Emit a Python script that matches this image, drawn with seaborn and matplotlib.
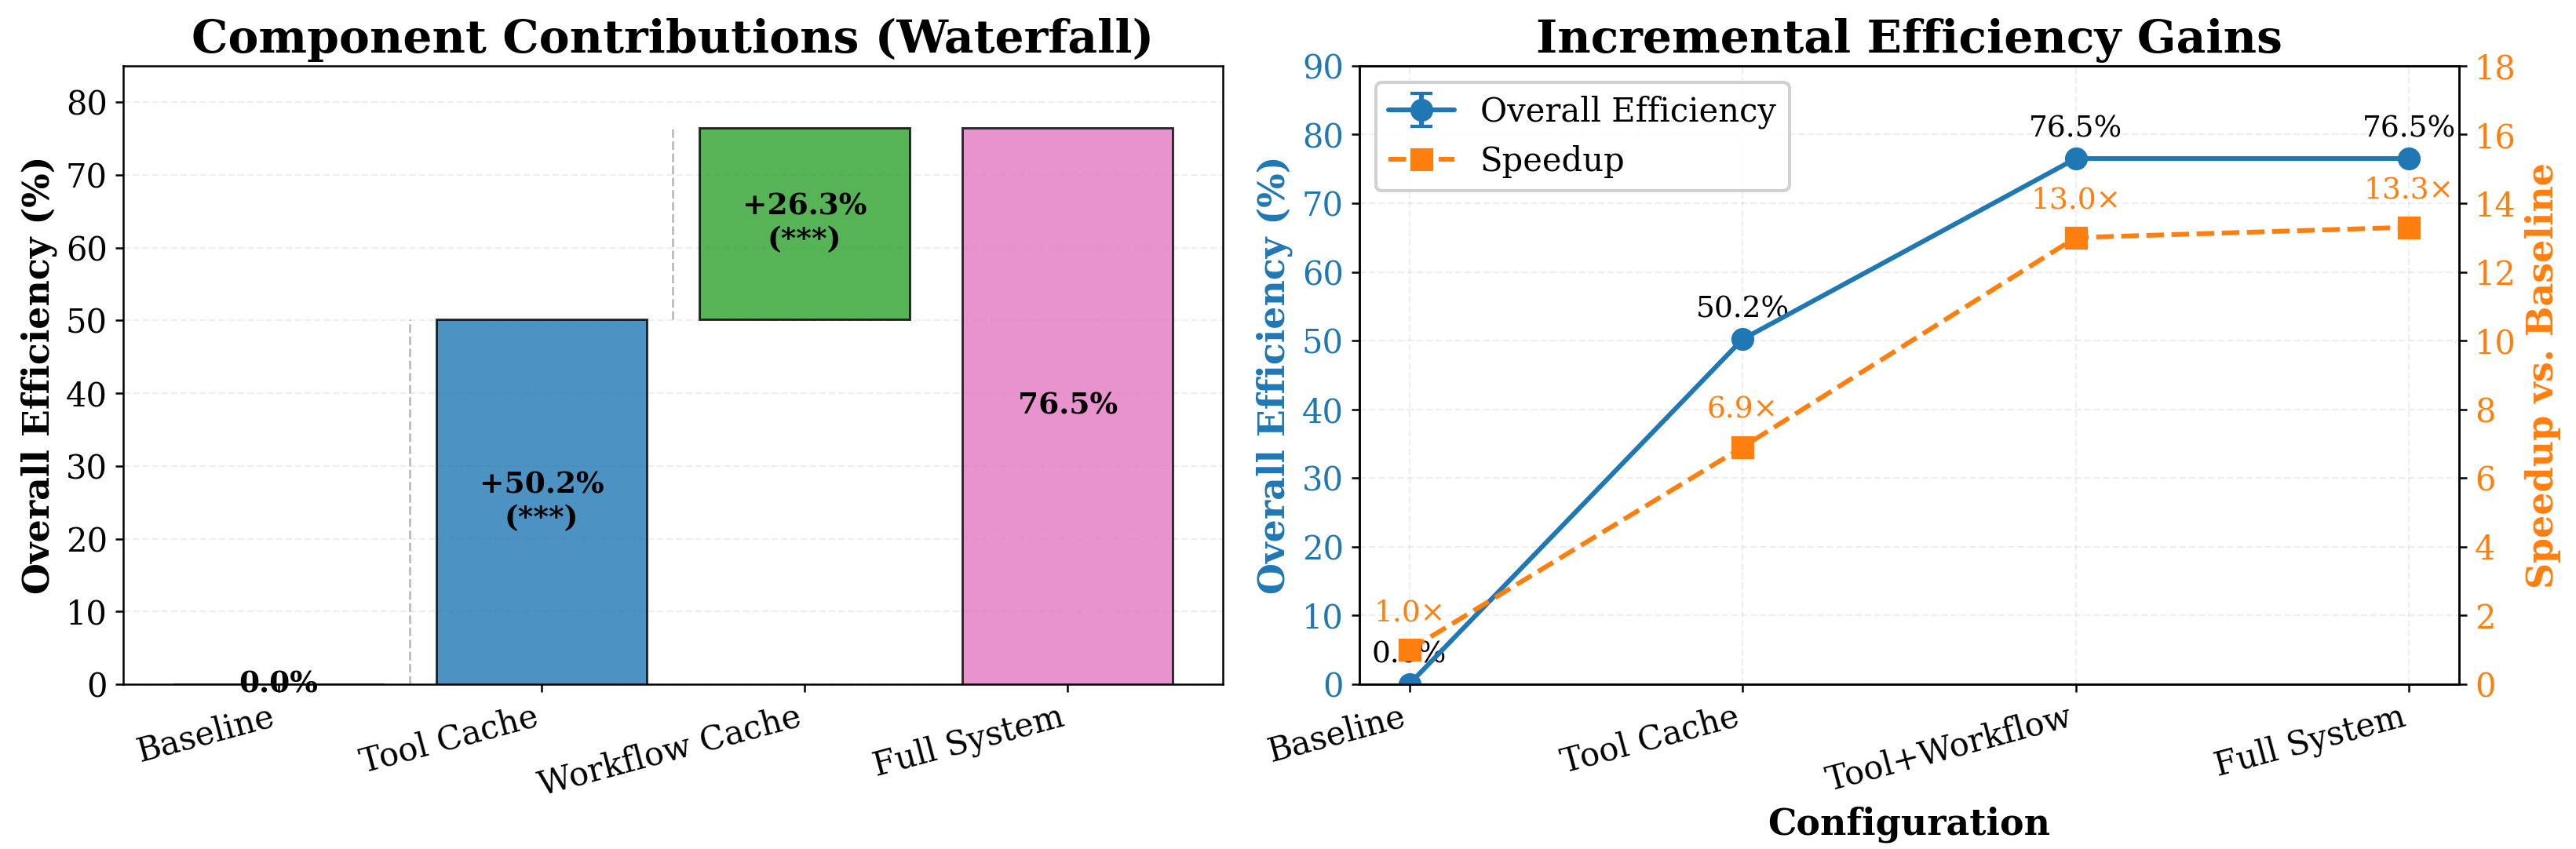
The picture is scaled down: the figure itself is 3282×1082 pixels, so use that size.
import numpy as np
import pandas as pd
import matplotlib
matplotlib.use("Agg")
import matplotlib.pyplot as plt
import seaborn as sns

# ---------------- data ----------------
wf_categories = ["Baseline", "Tool Cache", "Workflow Cache", "Full System"]
wf_bottoms = [0.0, 0.0, 50.2, 0.0]
wf_heights = [0.0, 50.2, 26.3, 76.5]
wf_labels = ["0.0%", "+50.2%\n(***)", "+26.3%\n(***)", "76.5%"]
wf_colors = ["#7f7f7f", "#1f77b4", "#2ca02c", "#e377c2"]
conn_x = [0.5, 1.5]
conn_lo = [0.0, 50.2]
conn_hi = [50.2, 76.5]

cfg_categories = ["Baseline", "Tool Cache", "Tool+Workflow", "Full System"]
efficiency = [0.0, 50.2, 76.5, 76.5]
efficiency_err = [0.0, 0.0, 0.0, 0.0]
speedup = [1.0, 6.9, 13.0, 13.3]

sns.set_style("ticks")
plt.rcParams.update({
    "font.family": ["DejaVu Serif"],
    "text.color": "black",
    "axes.labelcolor": "black",
    "axes.edgecolor": "black",
    "xtick.color": "black",
    "ytick.color": "black",
    "axes.linewidth": 0.6,
    "xtick.major.width": 0.6,
    "ytick.major.width": 0.6,
    "xtick.major.size": 2.4,
    "ytick.major.size": 2.4,
    "xtick.major.pad": 2.4,
    "ytick.major.pad": 2.4,
    "axes.labelpad": 2.7,
    "axes.titlepad": 4.0,
    "grid.linewidth": 0.55,
})

fig, (ax1, ax2) = plt.subplots(1, 2, figsize=(10.94, 3.607), dpi=300)
fig.subplots_adjust(left=0.0478, right=0.9546, top=0.9224, bottom=0.1941, wspace=0.124)

# ---------------- left: waterfall ----------------
df_wf = pd.DataFrame({"cat": wf_categories, "bottom": wf_bottoms, "height": wf_heights})
x = np.arange(len(wf_categories))
for i in range(len(wf_categories)):
    ax1.bar(x[i], df_wf["height"][i], bottom=df_wf["bottom"][i], width=0.8,
            color=wf_colors[i], alpha=0.8, edgecolor="black", linewidth=0.7, zorder=3)
    ax1.text(x[i], df_wf["bottom"][i] + df_wf["height"][i] / 2, wf_labels[i],
             ha="center", va="center", fontsize=9, fontweight="bold", zorder=4)
for cx, lo, hi in zip(conn_x, conn_lo, conn_hi):
    ax1.plot([cx, cx], [lo, hi], color="gray", linestyle="--", linewidth=0.7, alpha=0.5, zorder=2)
ax1.set_xticks(x)
ax1.set_xticklabels(wf_categories, rotation=15, ha="right", fontsize=10)
ax1.set_ylim(0, 85)
ax1.set_ylabel("Overall Efficiency (%)", fontsize=11, fontweight="bold")
ax1.set_title("Component Contributions (Waterfall)", fontsize=14, fontweight="bold")
ax1.yaxis.grid(True, linestyle="--", alpha=0.3, zorder=0)
ax1.set_axisbelow(True)
ax1.tick_params(labelsize=10)

# ---------------- right: line chart ----------------
blue = "#1f77b4"
orange = "#ff7f0e"
xc = np.arange(len(cfg_categories))
ax2.errorbar(xc, efficiency, yerr=efficiency_err, color=blue, marker="o", markersize=6,
             linewidth=1.45, capsize=3.3, label="Overall Efficiency", zorder=3)
for xi, v in zip(xc, efficiency):
    ax2.annotate(f"{v:.1f}%", (xi, v), xytext=(0, 6.6), textcoords="offset points",
                 ha="center", va="baseline", fontsize=9, color="black")
ax2.set_ylim(0, 90)
ax2.set_ylabel("Overall Efficiency (%)", fontsize=11, fontweight="bold", color=blue)
ax2.tick_params(axis="y", labelcolor=blue, labelsize=10)
ax2.set_xticks(xc)
ax2.set_xticklabels(cfg_categories, rotation=15, ha="right", fontsize=10)
ax2.set_xlabel("Configuration", fontsize=11, fontweight="bold")
ax2.grid(True, linestyle="--", alpha=0.3)
ax2.set_title("Incremental Efficiency Gains", fontsize=14, fontweight="bold")

ax3 = ax2.twinx()
ax3.plot(xc, speedup, color=orange, marker="s", markersize=6, linewidth=1.45,
         linestyle="--", label="Speedup", zorder=3)
for xi, v in zip(xc, speedup):
    ax3.annotate(f"{v:.1f}\u00d7", (xi, v), xytext=(0, 8.9), textcoords="offset points",
                 ha="center", va="baseline", fontsize=9, color=orange)
ax3.set_ylim(0, 18)
ax3.set_ylabel("Speedup vs. Baseline", fontsize=11, fontweight="bold", color=orange)
ax3.tick_params(axis="y", labelcolor=orange, labelsize=10)

h1, l1 = ax2.get_legend_handles_labels()
h2, l2 = ax3.get_legend_handles_labels()
ax2.legend(h1 + h2, l1 + l2, loc="upper left", fontsize=10, framealpha=0.9)

fig.savefig("out.png", dpi=300)
